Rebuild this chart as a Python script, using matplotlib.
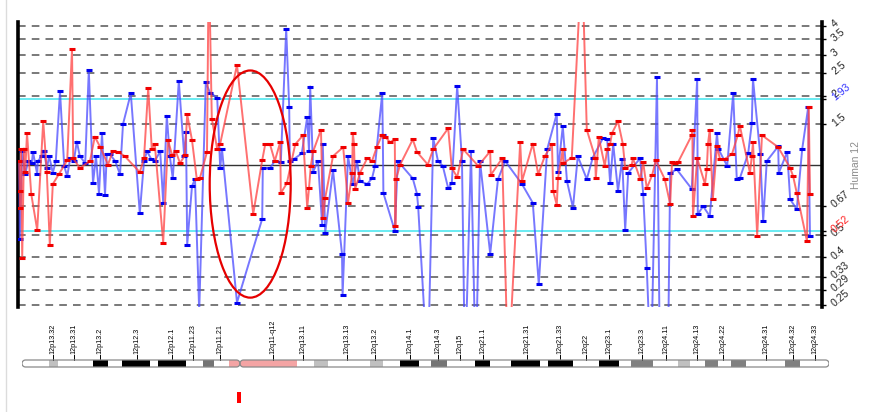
import numpy as np
import matplotlib
matplotlib.use('Agg')
import matplotlib.pyplot as plt
from matplotlib.patches import Ellipse, Rectangle, Polygon
from matplotlib.lines import Line2D
from matplotlib import font_manager

# probe positions along chr12 (Mb) and log2 ratios, two hybridisations
blue_pos = [0.2, 0.3, 0.7, 1.2, 1.7, 2.3, 2.5, 3.2, 3.3, 4.0,
            4.3, 4.8, 5.2, 5.8, 6.3, 7.0, 7.7, 8.2, 8.7, 9.3,
            9.8, 10.3, 11.2, 11.8, 12.5, 13.0, 13.5, 14.0, 14.5, 14.8,
            15.3, 16.2, 17.0, 17.5, 18.8, 20.3, 21.0, 21.5, 22.2, 22.8,
            23.7, 24.2, 24.8, 25.3, 25.8, 26.8, 27.7, 28.0, 28.2, 29.0,
            29.5, 30.2, 31.3, 32.0, 33.2, 33.7, 34.0, 36.5, 40.7, 40.8,
            42.0, 42.8, 43.8, 44.7, 45.2, 45.3, 46.0, 47.3, 48.2, 48.5,
            48.7, 49.2, 50.0, 50.7, 50.8, 51.2, 52.5, 54.0, 54.1, 55.0,
            55.8, 56.5, 57.0, 58.2, 59.0, 59.5, 60.7, 60.8, 60.9, 62.8,
            63.3, 65.8, 66.5, 66.7, 68.3, 69.2, 70.0, 70.8, 71.7, 72.3,
            73.2, 74.0, 74.5, 75.5, 76.3, 77.0, 78.7, 80.0, 81.2, 84.0,
            85.8, 86.8, 88.2, 89.8, 90.0, 90.8, 91.5, 92.5, 93.3, 94.8,
            95.8, 97.5, 98.2, 98.7, 99.2, 100.0, 100.7, 101.2, 101.7, 103.7,
            104.2, 104.8, 105.5, 106.5, 107.0, 108.3, 108.7, 109.8, 112.3, 113.2,
            113.3, 114.2, 115.3, 116.5, 116.7, 118.2, 119.2, 119.8, 120.3, 121.7,
            122.3, 122.5, 123.7, 124.2, 124.8, 126.7, 126.8, 128.2, 128.7, 129.8,
            130.7, 131.7, 132.0]
blue_log2 = [0.06, -1.06, 0.20, -0.13, 0.06, 0.03, 0.19, -0.13, 0.06, 0.13,
             0.21, -0.04, 0.13, -0.11, 0.06, 1.06, -0.01, -0.16, 0.10, 0.06,
             0.34, 0.13, 0.03, 1.36, -0.26, 0.13, -0.41, 0.46, -0.43, 0.16,
             0.16, 0.06, -0.13, 0.59, 1.03, -0.69, 0.06, 0.20, 0.09, 0.06,
             0.20, -0.54, 0.71, 0.13, -0.19, 1.21, 0.13, 0.47, -1.14, -0.30,
             -0.20, -2.1, 1.19, 1.04, 0.97, -0.04, 0.23, -1.97, -0.77, -0.04,
             -0.04, 0.06, 0.04, 1.96, 0.83, 0.06, 0.09, 0.17, 0.69, 0.20,
             1.13, -0.09, 0.06, -0.86, 0.30, -0.97, -0.07, -1.27, -1.86, 0.13,
             -0.27, 0.06, -0.23, -0.27, -0.19, -0.01, 1.03, 0.44, -0.40, -0.94,
             0.06, -0.19, -0.41, -0.60, -3.0, 0.39, 0.06, -0.01, -0.33, -0.26,
             1.14, 0.06, -3.0, 0.20, -3.0, 0.06, -1.27, -0.20, 0.06, -0.27,
             -0.54, -1.71, 0.23, 0.74, -0.09, 0.56, -0.23, -0.61, 0.13, -0.20,
             0.11, 0.39, 0.37, -0.26, 0.31, -0.37, 0.09, -0.93, -0.11, 0.10,
             -0.41, -1.47, -3.0, 1.26, -3.0, -3.0, -0.11, -0.06, -0.34, 1.24,
             -0.70, -0.59, -0.73, 0.46, 0.24, -0.01, 1.03, -0.20, -0.19, 0.17,
             0.60, 1.24, 0.16, -0.80, 0.06, 0.27, -0.11, 0.19, -0.49, -0.63,
             0.23, 0.83, -1.01]

red_pos = [0.2, 0.3, 0.4, 0.5, 0.7, 1.0, 1.2, 1.5, 2.2, 3.2,
           4.2, 4.8, 5.3, 5.8, 6.8, 8.2, 9.0, 9.2, 10.3, 12.0,
           12.8, 13.7, 15.0, 15.8, 16.7, 17.8, 20.3, 21.0, 21.7, 22.3,
           22.8, 24.2, 25.0, 25.7, 26.3, 27.0, 27.8, 28.2, 29.0, 29.8,
           30.3, 31.5, 31.8, 32.3, 33.2, 33.7, 36.5, 39.2, 40.7, 41.2,
           42.0, 42.8, 43.7, 43.8, 44.8, 46.2, 47.5, 48.2, 48.5, 48.8,
           49.2, 50.5, 50.8, 51.2, 52.5, 54.2, 55.0, 55.7, 55.8, 56.0,
           56.2, 57.0, 58.2, 59.0, 59.8, 60.7, 61.2, 62.0, 62.8, 62.9,
           63.0, 63.7, 65.8, 66.5, 68.3, 69.2, 71.7, 72.3, 73.2, 74.2,
           76.7, 78.7, 78.8, 80.7, 81.7, 83.7, 84.0, 85.8, 86.7, 87.8,
           89.0, 89.2, 89.8, 90.0, 90.8, 90.9, 92.3, 94.0, 94.8, 96.2,
           96.3, 96.8, 97.8, 98.2, 98.7, 99.0, 100.0, 100.8, 101.2, 102.3,
           102.5, 103.7, 104.2, 104.8, 105.7, 106.3, 107.8, 108.7, 109.0, 109.5,
           110.0, 112.3, 112.4, 112.5, 113.2, 114.5, 114.8, 115.0, 115.3, 115.8,
           116.5, 117.0, 117.8, 119.0, 120.0, 120.3, 122.0, 122.3, 122.5, 123.2,
           124.0, 126.7, 128.7, 129.2, 129.8, 131.5, 131.8, 132.0]
red_log2 = [0.06, -0.37, -0.61, 0.23, -1.33, 0.24, -0.10, 0.46, -0.41, -0.93,
            0.63, -0.09, -1.14, -0.27, -0.13, 0.07, 1.67, 0.10, -0.04, 0.06,
            0.41, 0.26, 0.01, 0.20, 0.19, 0.13, -0.10, 0.10, 1.11, 0.23,
            0.30, -1.11, 0.36, 0.14, 0.20, 0.03, 0.14, 0.73, 0.36, -0.20,
            -0.19, 0.19, 3.0, 0.67, 0.23, 0.31, 1.44, -0.70, 0.07, 0.30,
            0.30, 0.06, 0.33, -0.40, -0.26, 0.30, 0.43, -0.61, -0.33, -0.01,
            0.20, 0.51, -0.76, -0.47, 0.13, 0.26, -0.54, -0.11, 0.46, 0.31,
            -0.34, -0.11, 0.10, 0.06, 0.26, 0.44, 0.41, 0.33, 0.37, -0.87,
            -0.20, 0.01, 0.37, 0.19, 0.01, 0.23, 0.53, -0.04, -0.17, 0.23,
            -0.01, 0.20, -0.14, 0.10, -3.0, 0.33, -0.23, 0.31, -0.13, 0.13,
            0.30, -0.37, -0.57, -0.19, 0.23, 0.03, 0.11, 3.0, 0.51, 0.11,
            -0.19, 0.40, -0.01, 0.23, 0.31, 0.46, 0.63, 0.31, -0.04, 0.01,
            0.10, -0.20, 0.04, -0.33, -0.14, 0.07, -0.20, -0.56, 0.04, 0.03,
            0.04, 0.43, 0.51, -0.73, 0.10, -0.27, -0.06, 0.31, 0.51, -0.49,
            0.27, 0.09, 0.09, 0.16, 0.44, 0.57, -0.11, 0.13, 0.33, -1.01,
            0.43, 0.26, -0.04, -0.16, -0.40, -1.09, 0.83, -0.41]

ratio_ticks = [4, 3.5, 3, 2.5, 2, 1.5, 0.67, 0.5, 0.4, 0.33, 0.29, 0.25]
gain_cut = 1.93
loss_cut = 0.52

# cytobands of chromosome 12 (Mb)
chrom_len = 133.3
band_starts = [0, 4.46, 5.95, 11.73, 14.21, 16.52, 21.15, 22.47, 27.09, 29.9,
               31.72, 34.2, 36.0, 45.43, 48.24, 50.55, 57.49, 59.64, 62.45, 65.58,
               67.57, 70.21, 74.84, 77.31, 80.78, 85.57, 86.9, 91.03, 95.32, 98.62,
               100.6, 104.24, 108.37, 110.35, 112.83, 114.98, 117.13, 119.6, 126.05, 128.53]
band_stains = ['gneg', 'gpos25', 'gneg', 'gpos100', 'gneg', 'gpos100', 'gneg', 'gpos100', 'gneg', 'gpos75',
               'gneg', 'acen', 'acen', 'gneg', 'gpos25', 'gneg', 'gpos25', 'gneg', 'gpos100', 'gneg',
               'gpos75', 'gneg', 'gpos100', 'gneg', 'gpos100', 'gneg', 'gpos100', 'gneg', 'gpos100', 'gneg',
               'gpos50', 'gneg', 'gpos25', 'gneg', 'gpos50', 'gneg', 'gpos50', 'gneg', 'gpos50', 'gneg']
centromere = 36.0
band_names = ['12p13.32', '12p13.31', '12p13.2', '12p12.3', '12p12.1', '12p11.23', '12p11.21',
              '12q11-q12', '12q13.11', '12q13.13', '12q13.2', '12q14.1', '12q14.3', '12q15',
              '12q21.1', '12q21.31', '12q21.33', '12q22', '12q23.1', '12q23.3', '12q24.11',
              '12q24.13', '12q24.22', '12q24.31', '12q24.32', '12q24.33']
band_label_pos = [5.12, 8.59, 12.89, 19.0, 24.78, 28.25, 32.71, 41.47, 46.42, 53.69,
                  58.32, 64.1, 68.72, 72.36, 76.16, 83.43, 88.88, 93.17, 96.97, 102.42,
                  106.39, 111.51, 115.81, 122.91, 127.37, 131.0]
marked_pos = 35.85

stain_colors = {'gneg': 'white', 'gpos25': '#c0c0c0', 'gpos50': '#808080',
                'gpos75': '#747474', 'gpos100': 'black', 'acen': '#f4a4a4'}

plt.rcParams['font.family'] = 'Liberation Sans'
installed = {f.name for f in font_manager.fontManager.ttflist}
band_font = 'Liberation Sans Narrow' if 'Liberation Sans Narrow' in installed else 'Liberation Sans'

fig = plt.figure(figsize=(8.7, 4.12), dpi=100)

# ---- ratio profile ----
ax = fig.add_axes([0.0207, 0.2556, 0.9241, 0.6917])
ax.set_xlim(0, 134)
ax.set_ylim(-2.03, 2.06)

for r in ratio_ticks:
    ax.axhline(np.log2(r), color='#555555', lw=1.1, ls=(0, (5, 4)), zorder=1)
ax.axhline(0, color='#333333', lw=1.0, zorder=1)
ax.axhline(np.log2(gain_cut), color='#50e8f0', lw=1.2, zorder=1)
ax.axhline(np.log2(loss_cut), color='#50e8f0', lw=1.2, zorder=1)

ax.plot(blue_pos, blue_log2, color='#4a4aff', lw=1.4, alpha=0.75, zorder=3)
ax.plot(blue_pos, blue_log2, ls='none', marker='_', ms=4.5, mew=2.2, color='#0000f0', zorder=3)
ax.plot(red_pos, red_log2, color='#ff4040', lw=1.4, alpha=0.75, zorder=4)
ax.plot(red_pos, red_log2, ls='none', marker='_', ms=4.5, mew=2.2, color='#f00000', zorder=4)

ax.add_patch(Ellipse((38.7, -0.27), 13.5, 3.26, fill=False, ec='#e60000', lw=1.6, zorder=5))

for side in ['top', 'bottom']:
    ax.spines[side].set_visible(False)
for side in ['left', 'right']:
    ax.spines[side].set_linewidth(2.6)
    ax.spines[side].set_color('black')

ax.set_xticks([])
ax.yaxis.tick_right()
tick_vals = ratio_ticks + [gain_cut, loss_cut]
ax.set_yticks(np.log2(tick_vals), [f'{v:g}' for v in tick_vals])
ax.tick_params(axis='y', length=3, width=1, labelsize=7.5, pad=5,
               labelrotation=40, labelcolor='#222222')
labels = ax.get_yticklabels()
for lbl in labels:
    lbl.set_rotation_mode('anchor')
    lbl.set_horizontalalignment('left')
    lbl.set_verticalalignment('center')
labels[-2].set_color('#3030ff')
labels[-1].set_color('#ff2020')

fig.text(856 / 870, 1 - 165 / 412, 'Human 12', rotation=90, color='#8c8c8c',
         fontsize=7.5, ha='center', va='center')

# ---- chromosome ideogram ----
ideo = fig.add_axes([22 / 870, 2 / 412, 807 / 870, 90 / 412])
ideo.set_xlim(0, chrom_len)
ideo.set_ylim(0, 90)
ideo.axis('off')

y0, y1 = 43, 50
rx = 3.5 * chrom_len / 807


def arm_outline(x0, x1):
    ry = (y1 - y0) / 2
    yc = (y0 + y1) / 2
    t = np.linspace(np.pi / 2, 3 * np.pi / 2, 20)
    left = np.column_stack([x0 + rx + rx * np.cos(t), yc + ry * np.sin(t)])
    t = np.linspace(-np.pi / 2, np.pi / 2, 20)
    right = np.column_stack([x1 - rx + rx * np.cos(t), yc + ry * np.sin(t)])
    return np.vstack([left, right])


band_ends = band_starts[1:] + [chrom_len]
for a0, a1 in [(0, centromere), (centromere, chrom_len)]:
    arm = Polygon(arm_outline(a0, a1), closed=True, fc='none', ec='#8a8a8a', lw=0.9, zorder=3)
    ideo.add_patch(arm)
    for s, e, st in zip(band_starts, band_ends, band_stains):
        if s >= a0 and e <= a1:
            rect = Rectangle((s, y0), e - s, y1 - y0, fc=stain_colors[st], ec='none', zorder=2)
            ideo.add_patch(rect)
            rect.set_clip_path(arm)

for name, pos in zip(band_names, band_label_pos):
    ideo.plot([pos, pos], [y1, y1 + 5], color='black', lw=0.7)
    ideo.text(pos, y1 + 5.5, name, rotation=90, ha='center', va='bottom',
              fontsize=5.2, family=band_font)

ideo.add_patch(Rectangle((marked_pos - 0.33, 7), 0.66, 11, fc='#ff0000', ec='none'))

fig.add_artist(Line2D([6 / 870, 6 / 870], [0, 1], color='#dcdcdc', lw=1))

fig.savefig('out.png', dpi=100)
